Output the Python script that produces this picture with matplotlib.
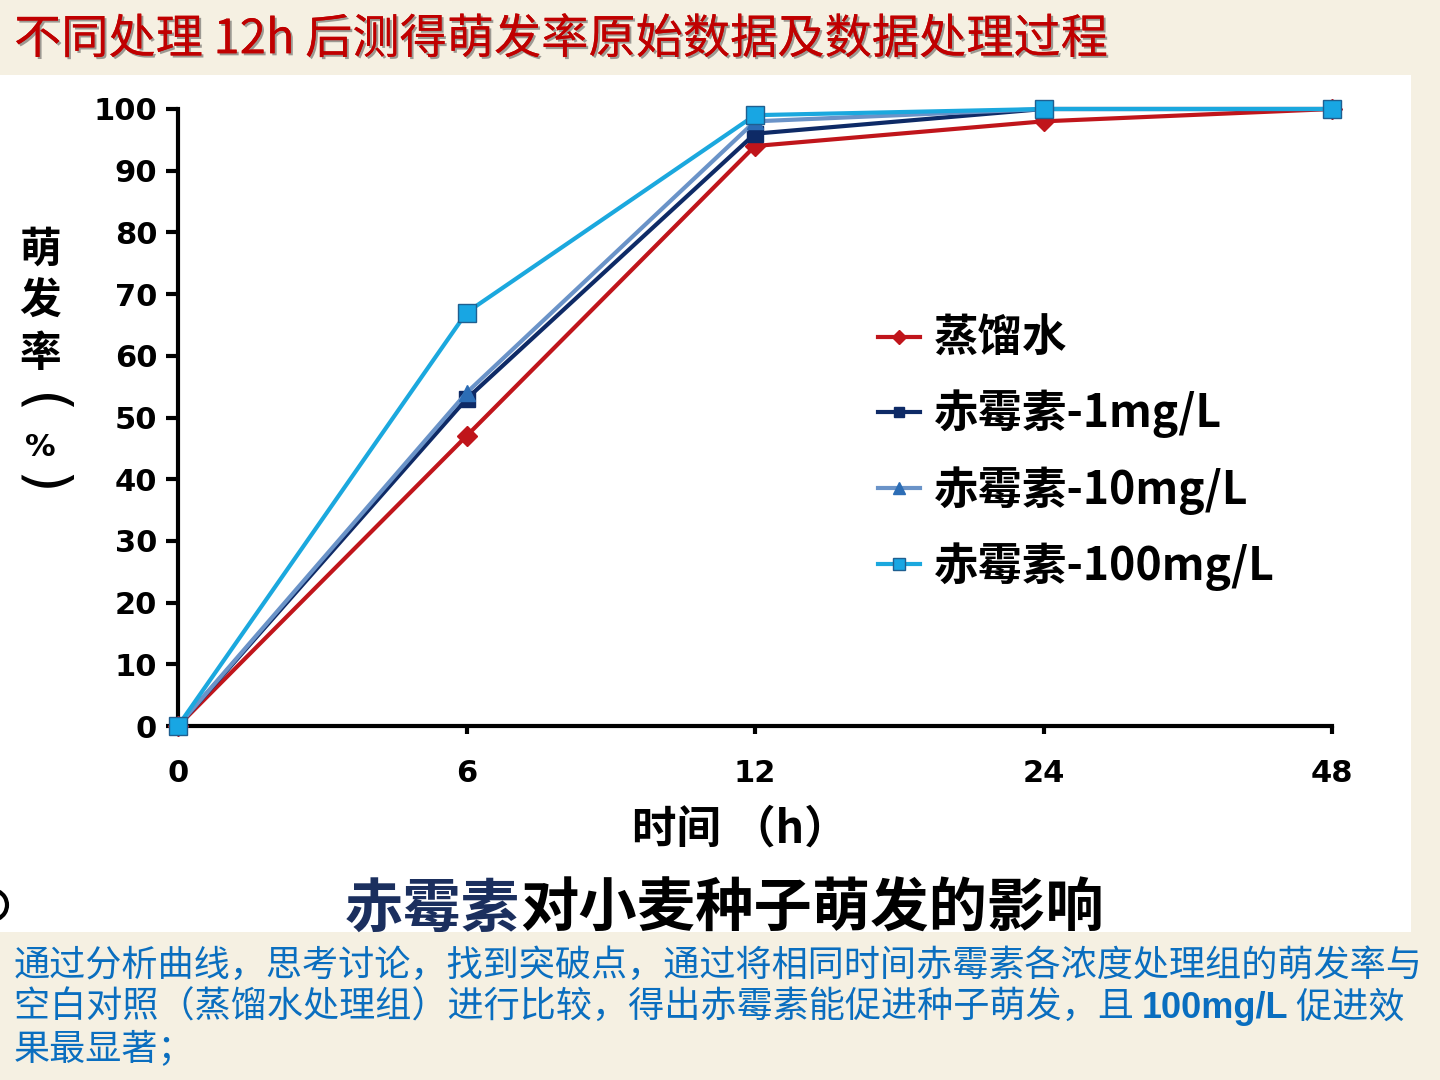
import matplotlib.pyplot as plt
from matplotlib.patches import Rectangle, Arc
import matplotlib.patheffects as pe

CJK = ["Noto Sans CJK SC", "DejaVu Sans"]

# data
times = ["0", "6", "12", "24", "48"]
water = [0, 47, 94, 98, 100]
ga_1 = [0, 53, 96, 100, 100]
ga_10 = [0, 54, 98, 100, 100]
ga_100 = [0, 67, 99, 100, 100]

labels = ["蒸馏水", "赤霉素-1mg/L", "赤霉素-10mg/L", "赤霉素-100mg/L"]
yticks = list(range(0, 101, 10))


def px(x, y):
    # pixel position -> figure fraction
    return x / 1440, 1 - y / 1080


fig = plt.figure(figsize=(14.4, 10.8), dpi=100)
fig.patch.set_facecolor("#F5F0E2")

# white picture panel
x0, y0 = px(0, 932)
fig.add_artist(Rectangle((x0, y0), 1411 / 1440, (932 - 75) / 1080,
                         transform=fig.transFigure, facecolor="white",
                         edgecolor="none", zorder=0))

# edge of a circled number cut off at the left border
fig.add_artist(Arc(px(-8, 905), 30 / 1440, 30 / 1080, theta1=-70, theta2=70,
                   transform=fig.transFigure, color="black", lw=3))

left, top = px(178, 109)
right, bottom = px(1332, 726)
ax = fig.add_axes([left, bottom, right - left, top - bottom])
ax.set_facecolor("none")

x = list(range(len(times)))
ax.plot(x, water, color="#C0151B", lw=3, marker="D", ms=10, label=labels[0],
        clip_on=False, zorder=3)
ax.plot(x, ga_1, color="#0E2A66", lw=3, marker="s", ms=11, label=labels[1],
        clip_on=False, zorder=4)
ax.plot(x, ga_10, color="#6A93C8", lw=3, marker="^", ms=12, mfc="#2C6DB5",
        mec="#2C6DB5", label=labels[2], clip_on=False, zorder=5)
ax.plot(x, ga_100, color="#1BA8DE", lw=3, marker="s", ms=13, mfc="#18A6E3",
        mec="#1F5F90", mew=1, label=labels[3], clip_on=False, zorder=6)

ax.set_xlim(0, len(times) - 1)
ax.set_ylim(0, 100)
ax.set_xticks(x)
ax.set_xticklabels(times)
ax.set_yticks(yticks)
for s in ["top", "right"]:
    ax.spines[s].set_visible(False)
for s in ["left", "bottom"]:
    ax.spines[s].set_linewidth(3)
ax.tick_params(axis="y", length=9, width=3, pad=6, labelsize=22)
ax.tick_params(axis="x", length=6, width=3, pad=18, labelsize=22)
for t in ax.get_xticklabels() + ax.get_yticklabels():
    t.set_fontweight("bold")
    t.set_family("DejaVu Sans")

leg = ax.legend(loc="upper left", bbox_to_anchor=px(856, 294),
                bbox_transform=fig.transFigure, frameon=False, borderpad=0,
                prop={"family": CJK, "size": 32, "weight": "bold"},
                handlelength=0.95, handletextpad=0.3, labelspacing=0.62,
                markerscale=0.7)

# axis titles
fig.text(*px(740, 830), "时间 （h）", ha="center", va="center",
         family=CJK, size=32, weight="bold")
for ch, yy in zip(["萌", "发", "率"], [250, 302, 354]):
    fig.text(*px(40, yy), ch, ha="center", va="center", family=CJK,
             size=30, weight="bold")
fig.text(*px(40, 404), "(", ha="center", va="center", family="DejaVu Sans",
         size=42, rotation=-90)
fig.text(*px(40, 447), "%", ha="center", va="center", family="DejaVu Sans",
         size=22, weight="bold")
fig.text(*px(40, 484), ")", ha="center", va="center", family="DejaVu Sans",
         size=42, rotation=-90)

# caption of the picture
cap = fig.text(*px(345, 910), "赤霉素", ha="left", va="center", family=CJK,
               size=42, weight="bold", color="#1B2F5E")
ax.annotate("对小麦种子萌发的影响", xy=(1, 0.5), xycoords=cap, va="center",
            ha="left", family=CJK, size=42, weight="bold", color="black",
            annotation_clip=False)

# slide title
fig.text(*px(14, 40), "不同处理 12h 后测得萌发率原始数据及数据处理过程",
         ha="left", va="center", family=CJK, size=34, weight="medium",
         color="#C00000",
         path_effects=[pe.withSimplePatchShadow(offset=(1.5, -1.5),
                                                shadow_rgbFace="#444444",
                                                alpha=0.5), pe.Normal()])

# explanation text
blue = "#0A6EBF"
fig.text(*px(14, 966), "通过分析曲线，思考讨论，找到突破点，通过将相同时间赤霉素各浓度处理组的萌发率与",
         ha="left", va="center", family=CJK, size=26, weight="medium", color=blue)
t2 = fig.text(*px(14, 1008), "空白对照（蒸馏水处理组）进行比较，得出赤霉素能促进种子萌发，且 ",
              ha="left", va="center", family=CJK, size=26, weight="medium", color=blue)
t3 = ax.annotate("100mg/L", xy=(1, 0.5), xycoords=t2, va="center", ha="left",
                 family="Liberation Sans", size=26, weight="bold", color=blue,
                 annotation_clip=False)
ax.annotate(" 促进效", xy=(1, 0.5), xycoords=t3, va="center", ha="left",
            family=CJK, size=26, weight="medium", color=blue,
            annotation_clip=False)
fig.text(*px(14, 1050), "果最显著；", ha="left", va="center", family=CJK,
         size=26, weight="medium", color=blue)

fig.savefig("out.png", dpi=100, facecolor=fig.get_facecolor())
